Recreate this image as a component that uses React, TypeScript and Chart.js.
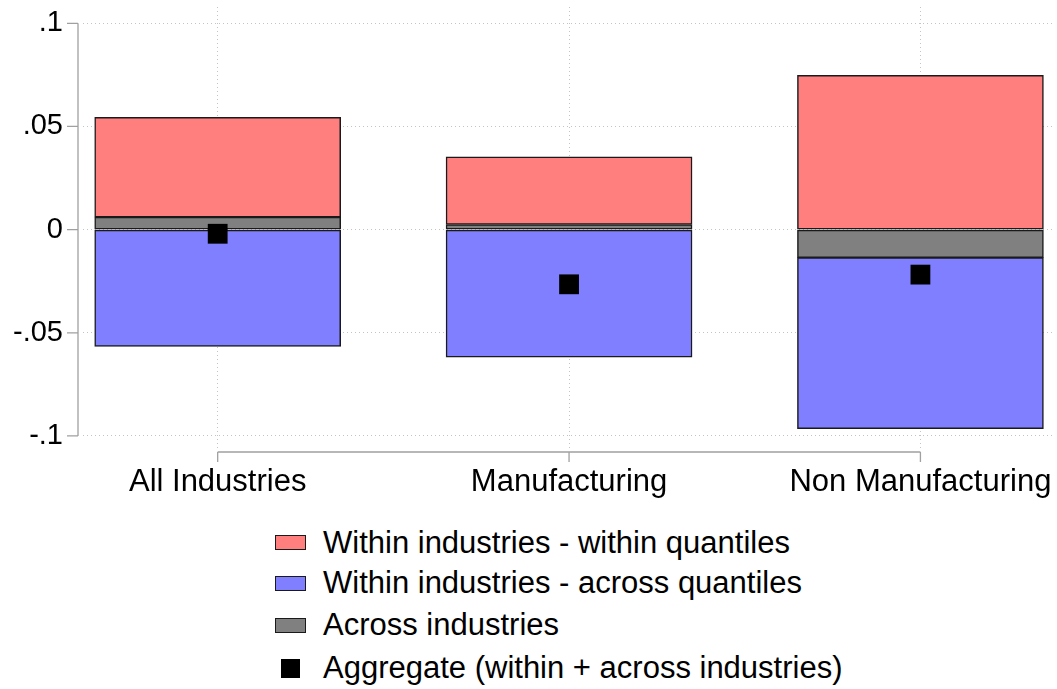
import React, { useEffect, useRef } from "react";
import { Chart, registerables } from "chart.js";

Chart.register(...registerables);

// categories and decomposition values
const categories = ["All Industries", "Manufacturing", "Non Manufacturing"];
const categoryX = [1, 2, 3];
const withinWithin = [0.0483, 0.0328, 0.0748];
const withinAcross = [-0.0566, -0.0618, -0.0829];
const acrossIndustries = [0.0061, 0.0025, -0.0136];
const aggregate = [-0.002, -0.0265, -0.0218];

const yTickValues = [0.1, 0.05, 0, -0.05, -0.1];
const yTickLabels = [".1", ".05", "0", "-.05", "-.1"];

const legendLabels = [
  "Within industries - within quantiles",
  "Within industries - across quantiles",
  "Across industries",
  "Aggregate (within + across industries)",
];

const RED = "#ff7f7f";
const BLUE = "#7f7fff";
const GRAY = "#808080";
const AXIS = "#a0a0a0";
const FONT = "'Liberation Sans', Arial, Helvetica, sans-serif";

// axis lines + outward ticks, only across the tick range (Stata style)
const stataAxes = {
  id: "stataAxes",
  afterDraw(chart: Chart) {
    const { ctx, chartArea } = chart;
    const x = chart.scales.x;
    const y = chart.scales.y;
    const axX = chartArea.left - 5;
    const axY = chartArea.bottom + 2;
    ctx.save();
    ctx.strokeStyle = AXIS;
    ctx.lineWidth = 1.3;
    ctx.beginPath();
    ctx.moveTo(axX, y.getPixelForValue(yTickValues[0]));
    ctx.lineTo(axX, y.getPixelForValue(yTickValues[yTickValues.length - 1]));
    yTickValues.forEach((v) => {
      const py = y.getPixelForValue(v);
      ctx.moveTo(axX - 11, py);
      ctx.lineTo(axX, py);
    });
    ctx.moveTo(x.getPixelForValue(categoryX[0]), axY);
    ctx.lineTo(x.getPixelForValue(categoryX[categoryX.length - 1]), axY);
    categoryX.forEach((v) => {
      const px = x.getPixelForValue(v);
      ctx.moveTo(px, axY);
      ctx.lineTo(px, axY + 10);
    });
    ctx.stroke();
    ctx.restore();
  },
};

const DecompositionChart: React.FC = () => {
  const chartRef = useRef<HTMLCanvasElement>(null);

  useEffect(() => {
    if (!chartRef.current) return;
    const pts = (vals: number[]) => vals.map((v, i) => ({ x: categoryX[i], y: v }));
    const barStyle = {
      borderColor: "#1a1a1a",
      borderWidth: 1.5,
      borderSkipped: false as const,
      barThickness: 246,
      stack: "bars",
    };

    const chart = new Chart(chartRef.current, {
      type: "bar",
      data: {
        datasets: [
          { label: legendLabels[0], data: pts(withinWithin), backgroundColor: RED, order: 1, ...barStyle },
          { label: legendLabels[1], data: pts(withinAcross), backgroundColor: BLUE, order: 2, ...barStyle },
          { label: legendLabels[2], data: pts(acrossIndustries), backgroundColor: GRAY, order: 0, ...barStyle },
          {
            type: "scatter",
            label: legendLabels[3],
            data: pts(aggregate),
            backgroundColor: "#000000",
            borderColor: "#000000",
            pointStyle: "rect",
            pointRadius: 14,
            borderWidth: 0,
            order: -1,
          } as any,
        ],
      },
      options: {
        animation: false,
        responsive: true,
        maintainAspectRatio: false,
        layout: { autoPadding: false, padding: { top: 7, right: 2, left: 0, bottom: 0 } },
        plugins: { legend: { display: false }, tooltip: { enabled: false } },
        scales: {
          x: {
            type: "linear",
            stacked: true,
            offset: false,
            min: 0.6167,
            max: 3.383,
            afterBuildTicks: (axis: any) => {
              axis.ticks = categoryX.map((v) => ({ value: v }));
            },
            afterFit: (axis: any) => {
              axis.height = 55;
              axis.paddingLeft = 0;
              axis.paddingRight = 0;
            },
            ticks: {
              autoSkip: false,
              maxRotation: 0,
              padding: 14,
              color: "#000000",
              font: { family: FONT, size: 31 },
              callback: (v: any) => categories[categoryX.indexOf(Number(v))] ?? "",
            },
            grid: { color: "#c4c4c4", lineWidth: 1, drawTicks: false, offset: false },
            border: { display: false, dash: [1, 3] },
          },
          y: {
            stacked: true,
            min: -0.1068,
            max: 0.1079,
            afterBuildTicks: (axis: any) => {
              axis.ticks = yTickValues.map((v) => ({ value: v }));
            },
            afterFit: (axis: any) => {
              axis.width = 83;
              axis.paddingTop = 0;
              axis.paddingBottom = 0;
            },
            ticks: {
              autoSkip: false,
              padding: 20,
              color: "#000000",
              font: { family: FONT, size: 29 },
              callback: (_v: any, i: number) => yTickLabels[i],
            },
            grid: { color: "#c4c4c4", lineWidth: 1, drawTicks: false },
            border: { display: false, dash: [1, 3] },
          },
        },
      },
      plugins: [stataAxes],
    });

    return () => {
      chart.destroy();
    };
  }, []);

  const legendSwatches = [RED, BLUE, GRAY, null];
  const rowCenters = [542.5, 583, 625, 668];

  return (
    <div style={{ position: "fixed", left: 0, top: 0, width: 1057, height: 689, background: "#fff", fontFamily: FONT }}>
      <div style={{ position: "absolute", left: 0, top: 0, width: 1057, height: 505 }}>
        <canvas ref={chartRef}></canvas>
      </div>
      {legendLabels.map((label, i) => (
        <div
          key={label}
          style={{
            position: "absolute",
            left: 275,
            top: rowCenters[i] - 20,
            height: 40,
            display: "flex",
            alignItems: "center",
            whiteSpace: "nowrap",
          }}
        >
          <div style={{ width: 31, display: "flex", justifyContent: "center" }}>
            {legendSwatches[i] ? (
              <div
                style={{
                  width: 29,
                  height: 13,
                  background: legendSwatches[i] as string,
                  border: "1px solid #1a1a1a",
                }}
              />
            ) : (
              <div style={{ width: 19, height: 19, background: "#000" }} />
            )}
          </div>
          <span style={{ marginLeft: 17, fontSize: 31, color: "#000" }}>{label}</span>
        </div>
      ))}
    </div>
  );
};

export default function App() {
  return <DecompositionChart />;
}
